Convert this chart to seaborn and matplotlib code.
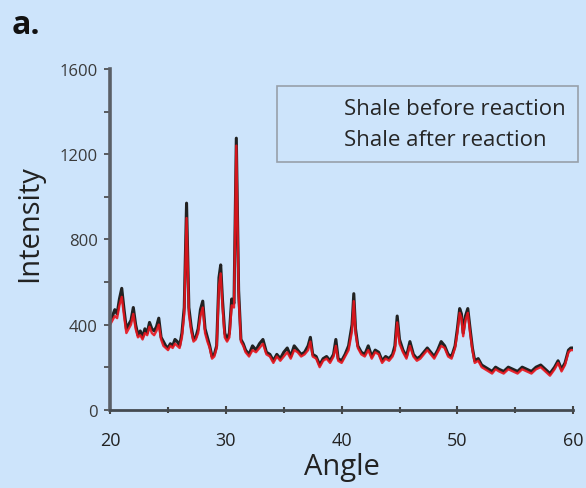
import numpy as np
import pandas as pd
import seaborn as sns
import matplotlib
matplotlib.use("Agg")
import matplotlib.pyplot as plt

# =====================================
# DATA
# =====================================

angle = [20.0, 20.2, 20.4, 20.6, 20.8, 21.0, 21.2, 21.4, 21.6, 21.8,
         22.0, 22.2, 22.4, 22.6, 22.8, 23.0, 23.2, 23.4, 23.6, 23.8,
         24.0, 24.2, 24.4, 24.6, 24.8, 25.0, 25.2, 25.4, 25.6, 25.8,
         26.0, 26.2, 26.4, 26.6, 26.8, 27.0, 27.2, 27.4, 27.6, 27.8,
         28.0, 28.2, 28.4, 28.6, 28.8, 29.0, 29.2, 29.4, 29.55, 29.7,
         29.9, 30.1, 30.3, 30.5, 30.7, 30.9, 31.1, 31.3, 31.5, 31.7,
         32.0, 32.3, 32.6, 32.9, 33.2, 33.5, 33.8, 34.1, 34.4, 34.7,
         35.0, 35.3, 35.6, 35.9, 36.2, 36.5, 36.8, 37.1, 37.3, 37.5,
         37.8, 38.1, 38.4, 38.7, 39.0, 39.3, 39.5, 39.7, 40.0, 40.3,
         40.6, 40.9, 41.05, 41.2, 41.4, 41.7, 42.0, 42.3, 42.6, 42.9,
         43.2, 43.5, 43.8, 44.1, 44.4, 44.6, 44.8, 45.0, 45.3, 45.6,
         45.9, 46.2, 46.5, 46.8, 47.1, 47.4, 47.7, 48.0, 48.3, 48.6,
         48.9, 49.2, 49.5, 49.8, 50.0, 50.2, 50.35, 50.5, 50.7, 50.9,
         51.1, 51.3, 51.5, 51.8, 52.1, 52.4, 52.7, 53.0, 53.3, 53.6,
         54.0, 54.4, 54.8, 55.2, 55.6, 56.0, 56.4, 56.8, 57.2, 57.6,
         58.0, 58.4, 58.7, 59.0, 59.3, 59.6, 59.8, 60.0]

before = [420, 440, 470, 450, 520, 570, 470, 380, 400, 420,
          480, 400, 350, 370, 340, 380, 360, 410, 380, 370,
          390, 430, 340, 320, 300, 290, 310, 300, 330, 320,
          300, 360, 480, 970, 480, 390, 330, 340, 380, 470,
          510, 380, 340, 300, 250, 260, 300, 620, 680, 520,
          360, 330, 360, 520, 500, 1275, 560, 330, 310, 280,
          260, 300, 280, 310, 330, 270, 260, 230, 260, 240,
          270, 290, 250, 300, 280, 260, 270, 300, 340, 260,
          250, 210, 240, 250, 230, 260, 330, 240, 230, 260,
          300, 400, 545, 380, 300, 270, 260, 300, 250, 280,
          270, 230, 250, 240, 260, 300, 440, 330, 280, 250,
          320, 260, 240, 250, 270, 290, 270, 250, 280, 320,
          300, 260, 250, 300, 380, 475, 450, 360, 440, 475,
          380, 290, 230, 240, 210, 200, 190, 180, 200, 190,
          180, 200, 190, 180, 200, 190, 180, 200, 210, 190,
          170, 200, 230, 190, 220, 280, 290, 290]

after = [400, 420, 440, 430, 490, 530, 440, 360, 380, 400,
         450, 380, 340, 350, 330, 360, 350, 390, 360, 350,
         370, 400, 330, 300, 290, 280, 300, 290, 310, 300,
         290, 340, 450, 900, 450, 370, 320, 330, 360, 440,
         480, 360, 320, 290, 240, 250, 290, 580, 640, 490,
         340, 320, 340, 490, 480, 1240, 530, 320, 300, 270,
         250, 280, 270, 290, 310, 260, 250, 220, 250, 230,
         250, 270, 240, 280, 270, 250, 260, 280, 320, 250,
         240, 200, 230, 240, 220, 250, 300, 230, 220, 250,
         280, 370, 510, 360, 290, 260, 250, 280, 240, 270,
         260, 220, 240, 230, 250, 280, 410, 310, 270, 240,
         300, 250, 230, 240, 260, 280, 260, 240, 270, 300,
         290, 250, 240, 290, 360, 455, 430, 345, 420, 455,
         360, 280, 220, 230, 200, 190, 180, 170, 190, 180,
         170, 190, 180, 170, 190, 180, 170, 190, 200, 180,
         160, 190, 220, 180, 210, 270, 280, 280]

labels = ["Shale before reaction", "Shale after reaction"]

# =====================================
# PLOT
# =====================================

bg = "#cde4fb"
sns.set_style("ticks")
plt.rcParams["font.family"] = ["Open Sans", "DejaVu Sans"]

fig = plt.figure(figsize=(5.86, 4.89), dpi=100, facecolor=bg)
ax = fig.add_axes([0.188, 0.16, 0.79, 0.697])
ax.set_facecolor(bg)

df = pd.DataFrame({"Angle": angle, "before": before, "after": after})

sns.lineplot(data=df, x="Angle", y="before", ax=ax, color="#222222",
             linewidth=2.2, label=labels[0])
sns.lineplot(data=df, x="Angle", y="after", ax=ax, color="#e8141c",
             linewidth=1.7, alpha=0.9, label=labels[1])

ax.set_xlim(20, 60)
ax.set_ylim(0, 1600)
ax.set_xticks([20, 30, 40, 50, 60])
ax.set_xticks([25, 35, 45, 55], minor=True)
ax.set_yticks([0, 400, 800, 1200, 1600])
ax.set_yticks([200, 600, 1000, 1400], minor=True)

ax.tick_params(axis="x", which="both", direction="inout", length=6,
               width=1.5, color="#444444", labelsize=13, pad=12,
               labelcolor="#222222")
ax.tick_params(axis="x", which="minor", length=4)
ax.tick_params(axis="y", which="both", direction="out", length=4,
               width=1.2, color="#444444", labelsize=12, pad=5,
               labelcolor="#3a3a3a")

for side in ["top", "right"]:
    ax.spines[side].set_visible(False)
ax.spines["left"].set_linewidth(2.6)
ax.spines["left"].set_color("#5a5f66")
ax.spines["bottom"].set_linewidth(2.0)
ax.spines["bottom"].set_color("#444a50")

ax.set_xlabel("Angle", fontsize=21, color="#222222")
ax.set_ylabel("Intensity", fontsize=21, color="#222222")
ax.xaxis.set_label_coords(0.5, -0.125)
ax.yaxis.set_label_coords(-0.142, 0.55)

leg = ax.legend(loc="upper right", bbox_to_anchor=(1.01, 0.95),
                borderaxespad=0, frameon=True, fancybox=False, fontsize=16,
                handlelength=2.0, handletextpad=0.45, borderpad=0.55,
                labelspacing=0.45)
leg.get_frame().set_facecolor(bg)
leg.get_frame().set_edgecolor("#8a8f96")
leg.get_frame().set_linewidth(1.2)
for h in leg.legend_handles:
    h.set_visible(False)

fig.text(0.02, 0.93, "a.", fontsize=23, fontweight="bold", color="#111111")

fig.savefig("out.png", dpi=100, facecolor=bg)
